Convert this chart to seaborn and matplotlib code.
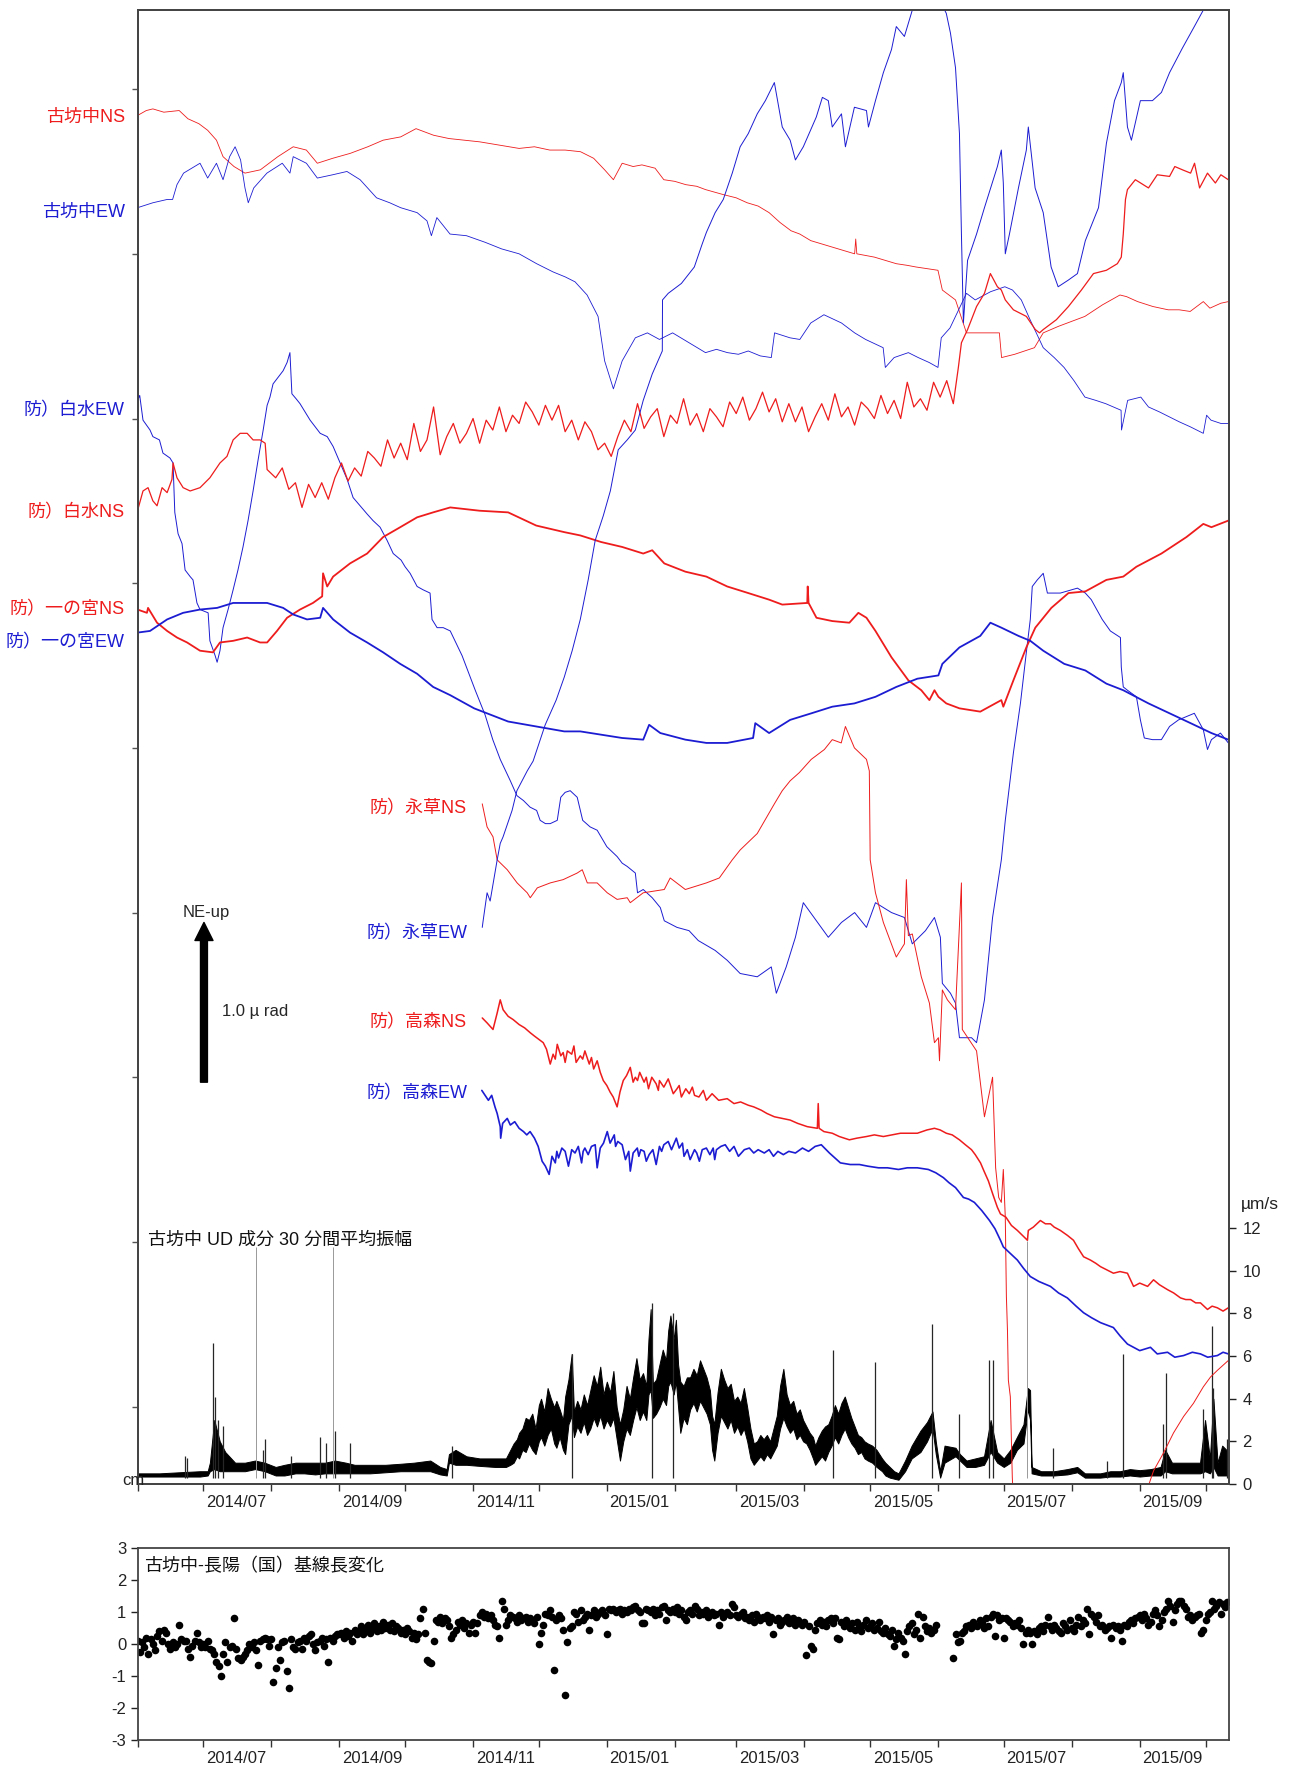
import numpy as np
import pandas as pd
import matplotlib
matplotlib.use('Agg')
import matplotlib.pyplot as plt
import matplotlib.dates as mdates
import matplotlib.transforms as mtransforms
import seaborn as sns

sns.set_style('white')
plt.rcParams['font.family'] = ['Liberation Sans', 'Noto Sans CJK JP']
plt.rcParams['axes.unicode_minus'] = False

START = pd.Timestamp('2014-06-01')
LAST_DAY = 497.5

# ---- tilt traces: (days since 2014-06-01, tilt in µrad) ----
kobo_ns = [(0, 8.31), (4, 8.34), (7, 8.35), (12, 8.33), (19, 8.34), (23, 8.29), (28, 8.26), (32, 8.22), (36, 8.16),
           (39, 8.06), (44, 8.00), (49, 7.96), (56, 7.98), (60, 8.02), (64, 8.06), (71, 8.12), (77, 8.10), (82, 8.02),
           (89, 8.05), (97, 8.08), (105, 8.12), (112, 8.16), (120, 8.18), (127, 8.23), (135, 8.19), (142, 8.17),
           (149, 8.16), (156, 8.15), (165, 8.13), (174, 8.11), (181, 8.12), (188, 8.10), (195, 8.10), (202, 8.09),
           (208, 8.05), (213, 7.98), (217, 7.92), (221, 8.02), (226, 8.00), (230, 8.01), (236, 7.99), (240, 7.92),
           (245, 7.91), (250, 7.89), (255, 7.88), (259, 7.86), (267, 7.83), (273, 7.81), (278, 7.78), (283, 7.76),
           (288, 7.72), (293, 7.66), (298, 7.61), (302, 7.59), (307, 7.55), (312, 7.53), (317, 7.51), (322, 7.49),
           (327, 7.47), (327.5, 7.56), (328, 7.47), (332, 7.46), (336, 7.45), (341, 7.43), (346, 7.41), (351, 7.40),
           (355, 7.39), (360, 7.38), (365, 7.37), (367, 7.25), (373, 7.19), (376, 7.07), (378, 6.99), (385, 6.99),
           (393, 6.99), (394, 6.84), (400, 6.86), (409, 6.90), (413, 6.99), (420, 7.03), (426, 7.06), (432, 7.09),
           (440, 7.16), (448, 7.22), (451, 7.21), (456, 7.18), (463, 7.15), (470, 7.13), (475, 7.13), (480, 7.12),
           (486, 7.18), (489, 7.14), (494, 7.17), (497.5, 7.18)]

kobo_ew = [(0, 7.75), (7, 7.78), (13.5, 7.80), (16, 7.80), (18, 7.89), (21, 7.96), (28.5, 8.02), (32, 7.93), (36, 8.02),
           (39, 7.92), (42, 8.06), (44.5, 8.12), (47, 8.04), (49, 7.87), (50.5, 7.78), (53, 7.87), (59, 7.96), (66, 8.02),
           (69.5, 7.96), (71, 8.06), (77, 8.02), (82, 7.93), (89, 7.95), (95.5, 7.97), (101.5, 7.92), (109, 7.81),
           (115, 7.78), (120, 7.75), (127.5, 7.72), (132, 7.67), (134, 7.58), (136.5, 7.69), (142.5, 7.59), (150, 7.58),
           (158.5, 7.54), (166, 7.50), (174, 7.47), (182, 7.41), (189.5, 7.36), (195, 7.33), (199.5, 7.30), (205, 7.22),
           (210, 7.09), (213, 6.82), (217, 6.65), (221, 6.82), (227, 6.96), (232.5, 6.99), (238, 6.95), (244, 6.99),
           (251.5, 6.93), (259, 6.87), (264, 6.89), (269, 6.87), (274, 6.86), (278.5, 6.88), (284, 6.85), (289, 6.84),
           (290.5, 6.99), (297.5, 6.96), (302, 6.95), (307, 7.05), (313, 7.10), (321, 7.05), (327, 6.99), (332, 6.95),
           (340, 6.90), (341, 6.78), (345, 6.84), (351.5, 6.87), (356, 6.84), (361, 6.81), (365, 6.78), (366.5, 6.96),
           (370.5, 7.02), (378, 7.23), (382, 7.19), (389, 7.24), (395.5, 7.27), (399, 7.25), (403, 7.19), (407, 7.07),
           (413, 6.90), (418, 6.84), (422.5, 6.78), (427, 6.70), (432, 6.60), (437, 6.58), (441.5, 6.56), (448.5, 6.52),
           (448.7, 6.40), (451.5, 6.58), (457.5, 6.60), (461, 6.54), (466, 6.51), (470.5, 6.48), (475, 6.45),
           (480, 6.42), (486, 6.38), (487.5, 6.49), (489.5, 6.46), (494, 6.44), (497.5, 6.44)]

shira_ew = [(0, 6.58), (1, 6.61), (2.5, 6.46), (5.7, 6.40), (7, 6.36), (10, 6.34), (11.6, 6.26), (14.8, 6.23),
            (16.2, 6.20), (17, 5.90), (18.5, 5.77), (20.3, 5.71), (21.7, 5.55), (24, 5.51), (25.3, 5.49), (27.1, 5.35),
            (28.5, 5.31), (32.2, 5.29), (33, 5.12), (35.4, 5.03), (36.3, 4.99), (37.6, 5.06), (39, 5.20), (41.3, 5.31),
            (43.6, 5.43), (45.8, 5.55), (48.1, 5.69), (50.4, 5.85), (52.7, 6.03), (55, 6.22), (57.3, 6.40), (59.1, 6.55),
            (60.4, 6.60), (61.8, 6.68), (64.1, 6.72), (66.4, 6.76), (68.2, 6.81), (69.5, 6.87), (70.4, 6.62),
            (72.3, 6.59), (74.1, 6.56), (76.4, 6.51), (78.7, 6.46), (81, 6.42), (83.3, 6.38), (86.5, 6.36), (89.2, 6.30),
            (92.4, 6.20), (95.6, 6.10), (98.3, 5.99), (101.5, 5.94), (104.7, 5.89), (107.4, 5.85), (110.6, 5.81),
            (113.8, 5.73), (116.6, 5.65), (120.2, 5.61), (122, 5.57), (124.3, 5.53), (127.5, 5.45), (130.2, 5.43),
            (133.4, 5.41), (134.3, 5.25), (136.6, 5.20), (139.4, 5.20), (142.6, 5.18), (148, 5.03), (154, 4.82),
            (158.5, 4.67), (162, 4.52), (165.4, 4.40), (170, 4.27), (173, 4.18), (176, 4.15), (179, 4.11), (182, 4.09),
            (183.6, 4.03), (186, 4.01), (188.2, 4.01), (191.4, 4.03), (193, 4.17), (195, 4.20), (197.3, 4.21),
            (200.5, 4.17), (203, 4.03), (206.4, 3.99), (209.6, 3.97), (214, 3.87), (218.7, 3.81), (221, 3.77),
            (223.3, 3.75), (227, 3.71), (228, 3.59), (230.6, 3.61), (234.7, 3.56), (238.4, 3.50), (240.2, 3.42),
            (246, 3.38), (251.5, 3.36), (255.7, 3.30), (263.4, 3.24), (268.9, 3.18), (274.8, 3.10), (282.6, 3.08),
            (289, 3.14), (291.3, 2.98), (295.8, 3.14), (300, 3.32), (303.6, 3.53), (309.6, 3.42), (315, 3.32),
            (321, 3.41), (327, 3.47), (332.4, 3.38), (336.5, 3.53), (343.8, 3.47), (349.7, 3.44), (353.3, 3.28),
            (359.3, 3.36), (363.4, 3.44), (366.1, 3.32), (367, 3.04), (370.7, 2.98), (373, 2.92), (374.8, 2.71),
            (380.3, 2.71), (382.6, 2.68), (386.2, 2.94), (389.9, 3.44), (393.9, 3.79), (395.7, 4.03), (399.4, 4.44),
            (402.6, 4.74), (405.3, 5.05), (407.1, 5.25), (408, 5.45), (410.3, 5.49), (413, 5.53), (414.9, 5.41),
            (420.8, 5.41), (428.6, 5.44), (432.2, 5.41), (434.9, 5.37), (439.9, 5.25), (443.6, 5.18), (448.2, 5.14),
            (448.6, 4.96), (449.5, 4.84), (451.4, 4.82), (455.5, 4.78), (457.3, 4.64), (459.1, 4.53), (462.8, 4.52),
            (466.9, 4.52), (470.6, 4.60), (474.7, 4.64), (478.3, 4.66), (481.9, 4.68), (486, 4.58), (487.9, 4.46),
            (489.7, 4.52), (493.8, 4.56), (497.4, 4.50)]

shira_ns = [(0, 5.91), (2.5, 6.03), (4.8, 6.05), (7, 5.97), (8.9, 5.94), (11.2, 6.05), (13.5, 6.02), (15.7, 6.10),
            (16.2, 6.20), (18, 6.11), (20.8, 6.05), (24, 6.03), (28.5, 6.05), (33, 6.11), (37.6, 6.20), (40.8, 6.24),
            (43.6, 6.34), (46.8, 6.38), (50, 6.38), (52.7, 6.34), (55.9, 6.34), (58.2, 6.32), (59.1, 6.16),
            (63, 6.11), (66, 6.17), (69, 6.04), (72, 6.08), (75, 5.93), (78, 6.07), (81, 5.99), (84, 6.08), (87, 5.98),
            (90, 6.11), (93, 6.20), (96, 6.09), (99, 6.17), (102, 6.12), (105, 6.27), (108, 6.23), (111, 6.18),
            (114, 6.34), (117, 6.23), (120, 6.32), (123, 6.22), (126, 6.44), (129, 6.27), (132, 6.34), (135, 6.54),
            (138, 6.25), (141, 6.36), (144, 6.44), (147, 6.32), (150, 6.38), (153, 6.47), (156, 6.32), (159, 6.46),
            (162, 6.40), (165, 6.54), (168, 6.39), (171, 6.49), (174, 6.44), (177, 6.57), (180, 6.51), (183, 6.43),
            (186, 6.55), (189, 6.46), (192, 6.55), (195, 6.39), (198, 6.46), (201, 6.34), (204, 6.45), (207, 6.39),
            (210, 6.28), (213, 6.32), (216, 6.24), (219, 6.36), (222, 6.46), (225, 6.39), (228, 6.56), (231, 6.41),
            (234, 6.48), (237, 6.53), (240, 6.36), (243, 6.49), (246, 6.44), (249, 6.59), (252, 6.43), (255, 6.50),
            (258, 6.39), (261, 6.53), (264, 6.48), (267, 6.42), (270, 6.57), (273, 6.50), (276, 6.60), (279, 6.46),
            (282, 6.53), (285, 6.63), (288, 6.51), (291, 6.59), (294, 6.45), (297, 6.56), (300, 6.45), (303, 6.54),
            (306, 6.39), (309, 6.48), (312, 6.56), (315, 6.46), (318, 6.62), (321, 6.48), (324, 6.54), (327, 6.43),
            (330, 6.57), (333, 6.53), (336, 6.47), (339, 6.61), (342, 6.50), (345, 6.58), (348, 6.47), (351, 6.69),
            (354, 6.54), (357, 6.59), (360, 6.52), (363, 6.69), (366, 6.60), (369, 6.70), (372, 6.56),
            (374.3, 6.78), (375.7, 6.93), (378.5, 7.01), (382.6, 7.15), (386.2, 7.23), (388.9, 7.35), (392.1, 7.27),
            (393.9, 7.25), (395.7, 7.19), (399.4, 7.13), (405.3, 7.09), (409.4, 7.01), (411.3, 6.99), (413, 7.01),
            (419, 7.07), (424.5, 7.15), (430.4, 7.25), (435.9, 7.35), (441.8, 7.37), (446.8, 7.41), (448.6, 7.45),
            (449.5, 7.59), (450.5, 7.80), (451.4, 7.86), (455, 7.92), (461, 7.87), (465, 7.95), (470.6, 7.94),
            (473, 8.00), (476.5, 7.98), (480.2, 7.96), (482, 8.02), (484.3, 7.87), (487.9, 7.96), (491.5, 7.90),
            (494, 7.95), (497.4, 7.92)]

ichi_ns = [(0, 5.31), (4.3, 5.29), (4.8, 5.32), (8.9, 5.23), (13.5, 5.18), (18, 5.14), (22.6, 5.11), (28.5, 5.06),
           (34.4, 5.05), (37.6, 5.11), (43.6, 5.12), (50, 5.14), (55.9, 5.11), (59.1, 5.11), (63.6, 5.18), (68.2, 5.26),
           (74.1, 5.31), (80, 5.35), (84.2, 5.39), (84.6, 5.53), (86.5, 5.45), (89.2, 5.51), (96.9, 5.59), (104.7, 5.65),
           (112, 5.75), (119.8, 5.81), (127.5, 5.87), (134.8, 5.90), (142.6, 5.93), (156, 5.91), (169, 5.90),
           (181.8, 5.82), (194.6, 5.78), (201.9, 5.76), (211.4, 5.72), (221, 5.69), (230.6, 5.65), (234.7, 5.67),
           (240.2, 5.59), (249.8, 5.54), (259.4, 5.51), (268.9, 5.45), (278.5, 5.41), (288, 5.37), (294, 5.34),
           (305.4, 5.35), (305.6, 5.45), (306, 5.35), (309.6, 5.26), (316.8, 5.24), (324.6, 5.23), (328.7, 5.29),
           (332.4, 5.26), (336.5, 5.18), (343.8, 5.02), (351.5, 4.88), (357.4, 4.82), (361.1, 4.76), (363.4, 4.82),
           (365.2, 4.78), (368.8, 4.74), (374.8, 4.71), (384.3, 4.69), (393.9, 4.76), (394.8, 4.72), (399.4, 4.88),
           (405.3, 5.08), (409.4, 5.20), (416.7, 5.32), (424.5, 5.41), (432.2, 5.42), (441.8, 5.49), (449.5, 5.51),
           (455.5, 5.57), (466.9, 5.65), (478.3, 5.75), (486, 5.83), (489.7, 5.81), (497.4, 5.85)]

ichi_ew = [(0, 5.17), (5.7, 5.18), (13.5, 5.25), (20.8, 5.29), (28.5, 5.31), (36.3, 5.32), (43.6, 5.35), (52.7, 5.35),
           (59.1, 5.35), (66.4, 5.32), (71, 5.28), (77.3, 5.25), (83.3, 5.26), (84.6, 5.32), (89.2, 5.25), (96.9, 5.17),
           (104.7, 5.11), (112, 5.05), (119.8, 4.98), (127.5, 4.92), (134.8, 4.84), (142.6, 4.79), (153.5, 4.71),
           (169, 4.63), (194.6, 4.57), (201.9, 4.57), (221, 4.53), (230.6, 4.52), (233.3, 4.61), (238.4, 4.56),
           (249.8, 4.52), (259.4, 4.50), (268.9, 4.50), (280.7, 4.53), (281.7, 4.62), (288, 4.56), (297.6, 4.64),
           (307.3, 4.68), (316.8, 4.72), (326.9, 4.74), (336.5, 4.78), (346, 4.84), (355.6, 4.89), (365.2, 4.91),
           (367, 4.98), (374.8, 5.08), (384.3, 5.15), (388.9, 5.23), (393.9, 5.20), (401.7, 5.15), (407.1, 5.12),
           (413, 5.06), (422.6, 4.98), (432.2, 4.94), (441.8, 4.86), (449.5, 4.82), (461, 4.74), (470.6, 4.68),
           (480.2, 4.62), (489.7, 4.56), (497.4, 4.52)]

naga_ns = [(157.2, 4.13), (159.4, 3.99), (162.1, 3.93), (164, 3.79), (168.6, 3.73), (173.1, 3.65), (177.7, 3.59),
           (179.1, 3.56), (182.3, 3.62), (188.2, 3.65), (194.1, 3.67), (200.5, 3.71), (202.8, 3.73), (205.1, 3.65),
           (209.6, 3.65), (214.2, 3.59), (218.7, 3.55), (223.3, 3.56), (224.7, 3.53), (230.6, 3.59), (240.2, 3.61),
           (242.9, 3.68), (249.8, 3.61), (259.4, 3.65), (265.3, 3.68), (271.2, 3.79), (274.8, 3.85), (282.6, 3.95),
           (290.4, 4.13), (294, 4.21), (297.6, 4.27), (301.8, 4.32), (307.2, 4.40), (313.2, 4.46), (316.8, 4.52),
           (320.9, 4.50), (322.8, 4.60), (326.9, 4.47), (332.4, 4.40), (333.7, 4.33), (334.1, 3.79), (336.5, 3.59),
           (340.1, 3.41), (346, 3.20), (349.7, 3.28), (350.6, 3.67), (351.5, 3.33), (353.3, 3.34), (357.4, 3.08),
           (361.1, 2.92), (363.4, 2.68), (365.2, 2.71), (365.7, 2.57), (367, 3.00), (369.3, 2.94), (373, 2.88),
           (375.7, 3.65), (376.1, 2.76), (382.6, 2.63), (384.4, 2.43), (386.2, 2.23), (389.9, 2.47), (391.3, 1.92),
           (392.7, 1.74), (393.9, 1.71), (394.8, 1.91), (395.7, 1.62), (396.2, 1.14), (396.7, 0.93), (397.1, 0.63),
           (398, 0.53), (398.9, 0.04), (399.8, -0.22), (431, -1.30), (461.5, 0.01), (463.3, 0.08), (467.9, 0.19),
           (472.4, 0.31), (477, 0.41), (481.5, 0.49), (486, 0.59), (489.3, 0.65), (492.4, 0.69), (497.4, 0.75)]

naga_ew = [(157.2, 3.38), (157.6, 3.42), (159.4, 3.59), (160.8, 3.54), (164, 3.79), (165.4, 3.89), (166.7, 3.93),
           (170.8, 4.09), (173, 4.21), (177.7, 4.33), (180.4, 4.39), (185.9, 4.61), (190.9, 4.76), (194.6, 4.90),
           (198.2, 5.06), (201.9, 5.25), (205.5, 5.49), (208.7, 5.73), (212.4, 5.88), (215.6, 6.03), (219.2, 6.28),
           (223.3, 6.34), (227, 6.40), (230.6, 6.58), (234.7, 6.74), (239.3, 6.88), (239.4, 7.19), (242, 7.23),
           (248, 7.29), (253.9, 7.39), (257.5, 7.53), (259.4, 7.60), (263.4, 7.72), (267.1, 7.80), (271.2, 7.96),
           (274.8, 8.12), (278.5, 8.20), (282.6, 8.32), (286.3, 8.40), (290.4, 8.51), (294, 8.24), (297.6, 8.16),
           (300, 8.04), (303.6, 8.12), (309.5, 8.30), (312.3, 8.42), (315, 8.40), (316.8, 8.24), (321, 8.32),
           (322.8, 8.12), (326.9, 8.36), (332.4, 8.34), (333.3, 8.24), (336.5, 8.40), (340.1, 8.57), (343.8, 8.71),
           (346, 8.85), (349.7, 8.79), (353.3, 8.95), (359.3, 9.05), (364.3, 9.05), (368.8, 8.93), (370.7, 8.81),
           (373, 8.60), (374.8, 8.20), (375.7, 7.59), (376.6, 7.05), (378.5, 7.43), (382.6, 7.59), (386.2, 7.75),
           (392.1, 8.00), (393.9, 8.10), (394.8, 7.90), (395.7, 7.47), (397.6, 7.59), (401.7, 7.87), (405.3, 8.10),
           (406.2, 8.24), (409.3, 7.87), (413, 7.72), (416.6, 7.39), (419.8, 7.27), (424.4, 7.31), (428.6, 7.35),
           (432.2, 7.55), (438.2, 7.75), (441.8, 8.14), (445.5, 8.40), (448.6, 8.51), (449.5, 8.57), (451.4, 8.24),
           (453.2, 8.16), (457.3, 8.40), (462.8, 8.40), (466.9, 8.45), (470.6, 8.57), (476.5, 8.72), (481.9, 8.85),
           (486, 8.95), (489, 9.07), (497.4, 9.25)]

taka_ns = [(157.2, 2.83), (159.4, 2.80), (162.1, 2.76), (164, 2.86), (165.4, 2.94), (166.7, 2.88), (169, 2.84),
           (171.3, 2.82), (174, 2.79), (176.5, 2.77), (179.1, 2.74), (181, 2.72), (183, 2.70), (185, 2.68),
           (186.5, 2.64), (188.2, 2.55), (189.5, 2.61), (190.5, 2.58), (191.4, 2.67), (193, 2.60), (194.1, 2.62),
           (195, 2.56), (196, 2.63), (198, 2.61), (199, 2.66), (200, 2.56), (201.9, 2.60), (203, 2.58), (204, 2.63),
           (206, 2.55), (207, 2.59), (208, 2.52), (209.6, 2.57), (211, 2.50), (212.4, 2.45), (214, 2.42),
           (215.5, 2.38), (216.9, 2.35), (218.7, 2.29), (220, 2.38), (221.5, 2.45), (223, 2.48), (224.7, 2.53),
           (226, 2.44), (227, 2.47), (228, 2.45), (229, 2.50), (231, 2.44), (232, 2.47), (233, 2.40), (234.5, 2.47),
           (236.5, 2.43), (237.5, 2.39), (238, 2.45), (240, 2.41), (242, 2.46), (244.3, 2.37), (246, 2.40),
           (247, 2.42), (248, 2.35), (250, 2.40), (251.6, 2.37), (253, 2.41), (254, 2.36), (256, 2.35), (258, 2.39),
           (259.4, 2.33), (262, 2.37), (265, 2.33), (268.9, 2.34), (272, 2.31), (275, 2.32), (278.5, 2.30),
           (281, 2.29), (284.4, 2.27), (287, 2.25), (290.4, 2.23), (294, 2.22), (297.6, 2.21), (301, 2.19),
           (305.4, 2.17), (310, 2.16), (310.4, 2.31), (310.8, 2.16), (313, 2.14), (316.8, 2.13), (320, 2.11),
           (324.6, 2.09), (328, 2.10), (332.4, 2.11), (336, 2.12), (340.1, 2.11), (344, 2.12), (347.9, 2.13),
           (352, 2.13), (355.6, 2.13), (360, 2.15), (363.4, 2.16), (366, 2.15), (368.8, 2.13), (371.5, 2.12),
           (374.8, 2.09), (377.5, 2.06), (380.3, 2.03), (382, 2.00), (384.4, 1.95), (386, 1.90), (388, 1.84),
           (390, 1.76), (392.1, 1.68), (393.5, 1.64), (396, 1.62), (398.5, 1.57), (401.2, 1.54), (403.5, 1.51),
           (405.8, 1.48), (406.2, 1.54), (408.5, 1.56), (411.7, 1.60), (414, 1.58), (416.3, 1.58), (418, 1.56),
           (420.8, 1.54), (424, 1.51), (426.8, 1.48), (429, 1.43), (431.4, 1.38), (434.5, 1.36), (437, 1.34),
           (439.1, 1.32), (442, 1.30), (445, 1.28), (448, 1.29), (451.4, 1.28), (454.2, 1.20), (457, 1.22),
           (460.6, 1.20), (463.3, 1.24), (466, 1.21), (469.7, 1.18), (472.5, 1.16), (475.6, 1.13), (478, 1.12),
           (480.2, 1.12), (482.5, 1.10), (484.7, 1.10), (487.9, 1.06), (490, 1.08), (492.4, 1.07), (495, 1.05),
           (497.4, 1.07)]

taka_ew = [(157, 2.39), (158.5, 2.36), (160, 2.33), (161.5, 2.36), (163, 2.29), (164, 2.25), (165.4, 2.17),
           (165.6, 2.10), (166.5, 2.19), (168.6, 2.22), (170, 2.18), (172, 2.20), (174, 2.16), (176, 2.14),
           (177.5, 2.12), (179, 2.14), (181, 2.10), (182.7, 2.05), (184.5, 1.96), (186, 1.93), (187.7, 1.88),
           (189, 1.99), (190.5, 1.95), (191.2, 2.02), (192, 1.98), (193.5, 2.04), (195, 2.02), (196.5, 1.93),
           (198, 2.03), (199.5, 2.01), (201, 2.05), (202.5, 1.95), (203.2, 2.02), (204, 2.04), (205.5, 2.00),
           (207, 2.05), (208.7, 2.06), (209.6, 1.92), (211, 2.04), (212.5, 2.07), (214.2, 2.14), (215.5, 2.07),
           (217.4, 2.12), (218, 2.05), (219, 2.08), (221, 2.06), (222.5, 1.97), (224, 2.02), (224.7, 1.90),
           (226, 2.01), (227.9, 2.04), (228.6, 1.99), (229.5, 2.03), (231, 2.02), (232, 1.96), (233.3, 2.00),
           (235, 2.03), (236.5, 1.94), (238, 2.05), (239, 2.02), (240, 2.06), (242, 2.08), (243.5, 2.03),
           (245.7, 2.10), (247, 2.04), (248.5, 2.07), (249.2, 1.99), (250.7, 2.03), (252, 1.97), (254, 2.03),
           (255, 2.01), (256.2, 1.96), (257.5, 2.03), (259.4, 2.04), (261, 2.00), (262.5, 2.04), (263.2, 1.97),
           (264, 2.03), (266, 2.05), (268, 2.06), (270, 2.02), (272, 2.05), (274, 1.99), (276.7, 2.03), (279, 2.04),
           (281, 2.01), (283, 2.03), (285.8, 2.01), (288, 2.03), (290, 1.99), (292, 2.02), (294.5, 2.00),
           (297, 2.02), (300, 2.01), (303.2, 2.04), (306, 2.02), (309, 2.05), (311.8, 2.06), (315.5, 2.01),
           (318, 1.98), (320.5, 1.95), (325, 1.94), (329.2, 1.94), (333, 1.93), (337.9, 1.92), (342, 1.92),
           (347, 1.91), (351, 1.92), (355.6, 1.92), (360.6, 1.91), (364, 1.89), (367.5, 1.86), (370, 1.83),
           (373, 1.80), (376.6, 1.74), (379, 1.73), (381.6, 1.71), (385, 1.66), (388.5, 1.60), (391, 1.55),
           (393.5, 1.48), (394.8, 1.44), (398, 1.40), (401.2, 1.36), (404, 1.31), (407.1, 1.26), (411, 1.23),
           (416.3, 1.20), (420, 1.16), (424, 1.13), (428, 1.08), (431.4, 1.04), (435, 1.01), (439.1, 0.98),
           (445, 0.95), (448, 0.90), (451.4, 0.85), (454.2, 0.83), (457, 0.81), (461.9, 0.83), (465, 0.79),
           (469.7, 0.80), (473, 0.77), (477, 0.78), (481, 0.80), (484.7, 0.79), (488, 0.77), (492.4, 0.78),
           (495, 0.80), (497.4, 0.79)]

# ---- UD amplitude (µm/s): (day, low envelope, high envelope) and isolated spikes ----
amp_env = [(0, 0.35, 0.5), (10, 0.35, 0.5), (19, 0.35, 0.55), (28.5, 0.35, 0.6), (32, 0.4, 0.6), (33, 0.6, 1.0),
           (35, 0.7, 3.0), (37.5, 0.6, 2.0), (40, 0.6, 1.5), (44.5, 0.6, 1.0), (49, 0.6, 1.0), (53.6, 0.7, 1.1),
           (58, 0.6, 1.0), (63, 0.4, 0.8), (67, 0.4, 0.9), (72, 0.5, 1.0), (76, 0.5, 1.0), (81, 0.45, 1.0),
           (85.5, 0.5, 1.0), (90, 0.5, 1.1), (95, 0.5, 1.0), (99, 0.5, 0.9), (106, 0.5, 0.9), (113, 0.55, 0.9),
           (120, 0.6, 0.95), (126, 0.6, 1.0), (133.5, 0.6, 1.1), (138, 0.45, 0.8), (141, 0.4, 0.7), (142, 1.0, 1.4),
           (145, 0.9, 1.6), (150, 0.9, 1.3), (156, 0.85, 1.2), (163, 0.8, 1.2), (168, 0.8, 1.2),
           (170, 0.9, 1.6), (171.5, 1.0, 1.9), (173, 1.3, 2.1), (174, 1.2, 2.4), (175.5, 1.6, 2.6), (177, 1.5, 3.1),
           (178.5, 1.9, 3.0), (180, 1.6, 3.3), (181.5, 1.4, 2.6), (183, 2.0, 3.7), (184, 2.2, 4.0), (185.5, 1.8, 3.4),
           (187, 2.3, 4.5), (188.5, 2.6, 4.0), (190, 1.9, 3.6), (191, 1.7, 3.9), (192.5, 2.2, 3.5), (194, 1.6, 3.0),
           (195, 1.4, 4.1), (196.5, 2.8, 4.9), (198, 3.2, 6.1), (199, 2.2, 3.4), (200.5, 2.7, 3.9), (202, 2.4, 3.5),
           (203.5, 2.9, 4.2), (205, 2.3, 3.7), (206.5, 2.6, 4.4), (208, 3.1, 5.1), (209.5, 2.7, 4.6), (211, 3.2, 5.5),
           (212.5, 2.6, 4.2), (214, 3.0, 4.8), (215.5, 2.7, 4.3), (217, 3.1, 5.3), (218.5, 2.1, 3.6), (220, 1.1, 2.8),
           (221.5, 2.0, 3.5), (223, 2.6, 4.6), (224.5, 2.3, 4.0), (226, 3.0, 5.0), (227.5, 3.6, 5.9), (229, 3.0, 4.9),
           (230.5, 3.4, 5.2), (232, 3.0, 4.6), (233, 4.2, 6.8), (234, 4.4, 8.2), (235, 3.1, 4.7), (236.5, 3.3, 4.9),
           (238, 3.6, 5.6), (239.5, 4.0, 6.3), (241, 3.7, 5.8), (242, 4.6, 7.2), (243, 4.8, 7.9), (244.5, 4.2, 6.8),
           (245.5, 4.8, 7.7), (246.5, 3.6, 5.6), (247.5, 2.4, 4.8), (249, 3.1, 4.6), (250.5, 2.8, 5.0),
           (252, 3.5, 5.0), (253.5, 3.8, 5.4), (255, 3.4, 5.1), (256.5, 3.9, 5.8), (258, 3.6, 5.4), (259.5, 3.3, 5.0),
           (261, 2.8, 4.4), (262, 1.6, 3.2), (263, 1.1, 2.8), (264.5, 2.4, 4.3), (266, 3.2, 5.4), (267.5, 2.9, 4.9),
           (269, 2.6, 4.5), (270.5, 3.0, 4.7), (272, 2.4, 3.9), (273.5, 2.7, 4.1), (275, 2.3, 3.8), (276.5, 2.6, 4.5),
           (278, 2.0, 3.6), (279.5, 1.2, 2.6), (281, 0.9, 1.9), (282.5, 1.1, 2.0), (284, 1.3, 2.3), (285.5, 1.1, 2.1),
           (287, 1.4, 2.3), (288.5, 1.2, 2.0), (290, 1.5, 2.6), (291.5, 1.8, 3.2), (293, 2.6, 4.6), (294.5, 3.1, 5.4),
           (296, 2.7, 4.2), (297.5, 2.4, 3.7), (299, 2.6, 3.9), (300.5, 2.1, 3.3), (302, 2.3, 3.5), (303.5, 2.0, 3.0),
           (305, 1.9, 2.7), (306.5, 1.6, 2.4), (308, 1.2, 2.2), (309, 0.9, 1.8), (310.5, 1.1, 2.2), (312, 1.3, 2.5),
           (313.5, 1.1, 2.7), (315, 1.5, 2.8), (316.5, 1.8, 3.2), (318, 2.2, 3.7), (319.5, 1.9, 3.3), (321, 2.3, 3.8),
           (322.5, 2.6, 4.1), (324, 2.2, 3.6), (325.5, 1.9, 3.1), (327, 1.7, 2.7), (328.5, 1.4, 2.3), (330, 1.5, 2.2),
           (331.5, 1.2, 2.0), (333, 1.1, 1.9), (335, 1.0, 1.8), (337, 0.8, 1.6), (339.5, 0.6, 1.2), (341, 0.4, 1.0),
           (343, 0.3, 0.8), (345, 0.25, 0.6), (347, 0.2, 0.5),
           (350, 0.6, 1.1), (353, 1.2, 1.8), (357, 1.5, 2.5), (360, 2.0, 2.9), (362.5, 2.6, 3.4), (364, 1.4, 2.0),
           (366, 0.3, 0.6), (368, 1.0, 1.8), (373, 1.3, 1.7), (375, 1.1, 1.4), (378, 0.8, 1.1), (382, 0.8, 1.2),
           (386, 0.9, 1.3), (389, 1.5, 3.0), (392, 1.0, 1.5), (395, 0.8, 1.2), (398, 1.0, 1.6), (401, 1.6, 2.2),
           (404, 1.9, 2.8), (406, 3.5, 4.5), (407, 3.0, 4.4), (407.7, 0.5, 0.8), (412, 0.4, 0.6), (418, 0.4, 0.6),
           (424, 0.45, 0.7), (428.5, 0.55, 0.8), (432, 0.3, 0.5), (439, 0.3, 0.5), (443.6, 0.35, 0.6),
           (448, 0.35, 0.6), (452.5, 0.4, 0.7), (457, 0.35, 0.65), (462, 0.4, 0.7), (466.5, 0.4, 0.8),
           (468.6, 0.6, 1.6), (471.7, 0.5, 1.0), (475.5, 0.5, 1.0), (480, 0.5, 1.0), (484.5, 0.5, 1.0),
           (486.8, 0.6, 3.0), (489, 0.5, 1.2), (490.6, 0.8, 4.0), (492.5, 0.4, 1.0), (494.6, 0.4, 1.8),
           (497.5, 0.4, 1.5)]

amp_spikes = [(21.7, 1.3), (22.5, 1.2), (34.5, 6.6), (35.5, 4.1), (36.8, 3.0), (39, 2.7), (54, 11.1), (57, 1.6),
              (58, 2.1), (70, 1.3), (83, 2.2), (86, 1.9), (89, 11.1), (90, 2.5), (97, 1.9), (143.5, 1.8), (198, 6.1),
              (234.5, 8.5), (244, 8.0), (317, 6.3), (336.4, 5.7), (362.4, 7.5), (374.8, 3.3), (388.5, 5.8),
              (390.3, 5.8), (405.8, 11.4), (417.6, 1.7), (442, 1.1), (449.5, 6.1), (467.4, 2.8), (469.2, 5.2),
              (486, 3.5), (490, 7.4), (490.5, 4.5), (497, 2.1)]

# ---- baseline length change (cm), one value per day from 2014-06-01 ----
bl_jun14 = [0.10, -0.25, 0.05, -0.10, 0.20, -0.30, 0.15, 0.00, -0.20, 0.25, 0.40, 0.10, 0.45, 0.35, 0.00, -0.15,
            0.05, -0.10, 0.00, 0.60, 0.15, 0.10, 0.10, -0.15, -0.40, -0.05, 0.10, 0.35, 0.05, -0.10]
bl_jul14 = [0.00, -0.10, 0.10, -0.15, -0.20, -0.30, -0.55, -0.70, -1.00, -0.30, 0.05, -0.55, -0.10, -0.05, 0.80,
            -0.15, -0.45, -0.50, -0.40, -0.30, -0.20, 0.00, -0.10, 0.05, -0.20, -0.65, 0.10, 0.15, 0.20, 0.15, -0.05]
bl_aug14 = [0.15, -1.20, -0.75, -0.10, -0.50, 0.05, 0.10, -0.85, -1.38, 0.15, -0.10, -0.15, 0.05, 0.10, -0.15,
            0.20, 0.10, 0.25, 0.30, 0.00, -0.20, 0.05, 0.10, 0.20, -0.05, 0.15, -0.55, 0.20, 0.10, 0.25, 0.30]
bl_sep14 = [0.30, 0.35, 0.20, 0.40, 0.25, 0.35, 0.10, 0.45, 0.30, 0.40, 0.55, 0.30, 0.45, 0.60, 0.35, 0.50, 0.65,
            0.40, 0.55, 0.45, 0.70, 0.50, 0.60, 0.45, 0.65, 0.40, 0.55, 0.50, 0.35, 0.45]
bl_oct14 = [0.30, 0.50, 0.40, 0.20, 0.35, 0.15, 0.30, 0.80, 1.10, 0.35, -0.50, -0.55, -0.60, 0.10, 0.75, 0.70,
            0.85, 0.65, 0.80, 0.75, 0.55, 0.20, 0.30, 0.45, 0.70, 0.60, 0.75, 0.50, 0.65, 0.35, 0.60]
bl_nov14 = [0.70, 0.35, 0.65, 0.90, 1.00, 0.85, 0.95, 0.80, 0.90, 0.75, 0.60, 0.55, 0.20, 1.35, 1.10, 0.60, 0.75,
            0.90, 0.85, 0.80, 0.70, 0.90, 0.75, 0.80, 0.85, 0.70, 0.80, 0.75, 0.65, 0.85]
bl_dec14 = [0.00, 0.35, 0.60, 0.95, 0.90, 1.05, 0.85, -0.80, 0.75, 0.90, 0.80, 0.45, -1.58, 0.05, 0.50, 0.55, 1.00,
            0.95, 0.70, 1.05, 0.75, 0.85, 0.95, 0.45, 0.90, 1.05, 0.85, 0.95, 1.00, 1.05, 0.90]
bl_jan15 = [0.30, 1.10, 1.05, 1.10, 1.00, 1.05, 1.10, 0.95, 1.05, 1.00, 1.10, 1.05, 1.15, 1.20, 1.05, 1.00, 0.65,
            0.65, 1.10, 1.05, 1.00, 1.10, 0.90, 1.05, 0.95, 1.15, 1.20, 0.75, 1.05, 1.00, 1.10]
bl_feb15 = [1.00, 1.15, 0.95, 1.05, 0.85, 0.75, 1.00, 1.05, 0.95, 1.20, 1.10, 0.90, 1.00, 0.95, 1.05, 0.85, 0.95,
            1.00, 0.90, 0.95, 0.60, 1.00, 0.85, 0.95, 1.00, 0.90, 1.25, 1.15]
bl_mar15 = [0.90, 0.85, 0.95, 1.00, 0.80, 0.85, 0.75, 0.90, 0.70, 0.95, 0.85, 0.75, 0.85, 0.80, 0.90, 0.70, 0.85,
            0.30, 0.75, 0.80, 0.60, 0.70, 0.75, 0.85, 0.65, 0.70, 0.80, 0.60, 0.75, 0.65, 0.60]
bl_apr15 = [0.70, -0.35, 0.55, -0.05, -0.15, 0.45, 0.65, 0.75, 0.60, 0.70, 0.55, 0.75, 0.80, 0.65, 0.80, 0.20,
            0.15, 0.70, 0.55, 0.75, 0.60, 0.50, 0.65, 0.45, 0.70, 0.55, 0.40, 0.60, 0.75, 0.50]
bl_may15 = [0.55, 0.65, 0.45, 0.50, 0.70, 0.40, 0.35, 0.50, 0.30, 0.25, 0.45, -0.05, 0.15, 0.35, 0.20, 0.10, -0.30,
            0.40, 0.55, 0.65, 0.30, 0.45, 0.95, 0.20, 0.85, 0.55, 0.40, 0.50, 0.35, 0.45, 0.60]
bl_jun15 = [None] * 7 + [-0.45, 0.30, 0.05, 0.10, 0.35, 0.40, 0.55, 0.60, 0.50, 0.70, 0.60, 0.55, 0.75, 0.65,
                         0.50, 0.80, 0.55, 0.85, 0.95, 0.25, 0.90, 0.75, 0.80]
bl_jul15 = [0.20, 0.80, 0.75, 0.70, 0.55, 0.65, 0.60, 0.75, 0.50, 0.00, 0.35, 0.45, 0.35, 0.00, 0.40, 0.30, 0.50,
            0.55, 0.40, 0.60, 0.85, 0.55, 0.45, 0.60, 0.50, 0.40, 0.35, 0.65, 0.55, 0.45, 0.75]
bl_aug15 = [0.50, 0.40, 0.60, 0.85, 0.55, 0.75, 0.65, 1.10, 0.30, 0.95, 0.85, 0.70, 0.90, 0.55, 0.60, 0.45, 0.50,
            0.55, 0.20, 0.60, 0.50, 0.55, 0.45, 0.10, 0.60, 0.55, 0.70, 0.75, 0.65, 0.80, 0.85]
bl_sep15 = [0.90, 0.75, 0.95, 0.80, 0.60, 0.70, 0.95, 1.05, 0.90, 0.55, 0.75, 1.00, 1.10, 1.35, 1.20, 0.70, 1.05,
            1.25, 1.35, 1.35, 1.20, 1.10, 0.85, 0.90, 0.75, 0.85, 0.90, 0.95, 0.35, 0.45]
bl_oct15 = [0.75, 0.95, 1.00, 1.35, 1.10, 1.20, 1.30, 0.95, 1.25, 1.15, 1.30]

# labels (text, tilt value at start, colour key)
left_labels = [('古坊中NS', 8.30, 'r'), ('古坊中EW', 7.72, 'b'), ('防）白水EW', 6.52, 'b'),
               ('防）白水NS', 5.90, 'r'), ('防）一の宮NS', 5.31, 'r'), ('防）一の宮EW', 5.11, 'b')]
mid_labels = [('防）永草NS', 4.10, 'r'), ('防）永草EW', 3.34, 'b'), ('防）高森NS', 2.80, 'r'), ('防）高森EW', 2.37, 'b')]

RED = '#ee1c1c'
BLUE = '#1c1cd2'
COL = {'r': RED, 'b': BLUE}


def to_dates(days):
    return START + pd.to_timedelta(np.asarray(days, dtype=float), unit='D')


def dnum(day):
    return mdates.date2num(START + pd.Timedelta(days=day))


fig = plt.figure(figsize=(13.01, 17.69), dpi=100)
ax = fig.add_axes([0.1057, 0.1611, 0.8386, 0.8332])
ax2 = ax.twinx()
ax.set_zorder(ax2.get_zorder() + 1)
ax.patch.set_visible(False)

# amplitude on the right axis
env = np.array(amp_env)
ax2.fill_between(to_dates(env[:, 0]), env[:, 1], env[:, 2], color='black', linewidth=0.7)
for d, h in amp_spikes:
    tall = h > 9
    ax2.vlines(dnum(d), 0.3, h, colors='0.6' if tall else '0.15', linewidth=0.7 if tall else 0.9)
ax2.set_ylim(0, 69.1)
ax2.set_yticks(range(0, 13, 2))
ax2.tick_params(axis='y', right=True, left=False, direction='out', length=5, width=1,
                labelsize=12, pad=5, colors='#222222')

# tilt traces
traces = [(kobo_ns, RED, 0.6), (kobo_ew, BLUE, 0.6), (shira_ew, BLUE, 0.7), (shira_ns, RED, 0.9),
          (ichi_ns, RED, 1.3), (ichi_ew, BLUE, 1.3), (naga_ns, RED, 0.7), (naga_ew, BLUE, 0.7),
          (taka_ns, RED, 1.1), (taka_ew, BLUE, 1.2)]
for data, col, lw in traces:
    arr = np.array(data)
    sns.lineplot(x=to_dates(arr[:, 0]), y=arr[:, 1], ax=ax, color=col, linewidth=lw,
                 estimator=None, sort=False)

ax.set_ylim(0, 8.95)
ax.set_yticks([0.47 + k for k in range(9)])
ax.yaxis.set_major_formatter(plt.NullFormatter())
ax.tick_params(axis='y', left=True, right=False, direction='out', length=4, width=1, colors='#555555')

# arrow scale
ax.annotate('', xy=(dnum(30.3), 3.41), xytext=(dnum(30.3), 2.44),
            arrowprops=dict(facecolor='black', edgecolor='black', width=5, headwidth=13, headlength=13, shrink=0))
ax.text(dnum(31.2), 3.47, 'NE-up', ha='center', va='center', fontsize=12)
ax.text(dnum(38.5), 2.87, '1.0 µ rad', ha='left', va='center', fontsize=12)

trans = mtransforms.blended_transform_factory(ax.transAxes, ax.transData)
for txt, v, c in left_labels:
    ax.text(-0.0115, v, txt, transform=trans, ha='right', va='center', color=COL[c], fontsize=13, clip_on=False)
for txt, v, c in mid_labels:
    ax.text(dnum(150.3), v, txt, ha='right', va='center', color=COL[c], fontsize=13)

ax.text(0.0096, 0.1655, '古坊中 UD 成分 30 分間平均振幅', transform=ax.transAxes, ha='left', va='center',
        fontsize=13, color='#111111')
fig.text(1241 / 1301, 1 - 1205 / 1769, 'µm/s', ha='left', va='center', fontsize=12.5, color='#222222')
fig.text(122 / 1301, 1 - 1480 / 1769, 'cm', ha='left', va='center', fontsize=12, color='#222222')

# baseline panel
axb = fig.add_axes([0.1057, 0.0164, 0.8386, 0.1085])
baseline = (bl_jun14 + bl_jul14 + bl_aug14 + bl_sep14 + bl_oct14 + bl_nov14 + bl_dec14 + bl_jan15 + bl_feb15
            + bl_mar15 + bl_apr15 + bl_may15 + bl_jun15 + bl_jul15 + bl_aug15 + bl_sep15 + bl_oct15)
bl_dates = pd.date_range(START, periods=len(baseline), freq='D')
bl_vals = np.array([np.nan if b is None else b for b in baseline], dtype=float)
sns.scatterplot(x=bl_dates, y=bl_vals, ax=axb, color='black', s=30, linewidth=0)
axb.set_ylim(-3, 3)
axb.set_yticks(range(-3, 4))
axb.tick_params(axis='y', left=True, direction='out', length=5, width=1, labelsize=12, pad=3, colors='#222222')
axb.text(0.006, 0.906, '古坊中-長陽（国）基線長変化', transform=axb.transAxes, ha='left', va='center',
         fontsize=13, color='#111111')

for a in (ax, axb):
    a.set_xlim(START, START + pd.Timedelta(days=LAST_DAY))
    a.xaxis.set_major_locator(mdates.MonthLocator())
    a.xaxis.set_major_formatter(plt.NullFormatter())
    a.xaxis.set_minor_locator(mdates.MonthLocator(bymonth=[1, 3, 5, 7, 9, 11], bymonthday=16))
    a.xaxis.set_minor_formatter(mdates.DateFormatter('%Y/%m'))
    a.tick_params(axis='x', which='major', bottom=True, direction='out', length=5, width=1, colors='#333333')
    a.tick_params(axis='x', which='minor', bottom=True, length=0, labelsize=12, pad=8, labelcolor='#222222')
    a.set_xlabel('')
    a.set_ylabel('')
ax2.set_ylabel('')

for a in (ax, ax2, axb):
    for s in a.spines.values():
        s.set_color('#444444')
        s.set_linewidth(1.3)

fig.savefig('out.png', dpi=100)
